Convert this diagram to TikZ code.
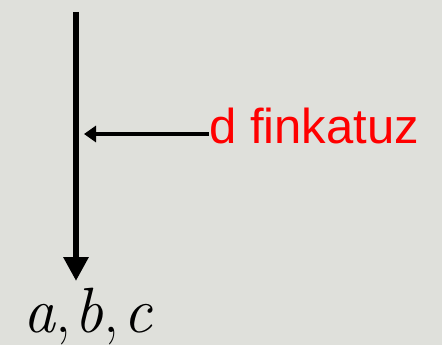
\documentclass[tikz,border=0pt]{standalone}
\usepackage{fontspec}
\setmainfont{Liberation Sans}
\newfontfamily\lmr{Latin Modern Roman}
\usetikzlibrary{arrows.meta}
\definecolor{bg}{RGB}{223,224,219}
\definecolor{lbl}{RGB}{255,0,0}
\begin{document}
\begin{tikzpicture}[x=1pt,y=-1pt,
  mainarrow/.style={line width=6.5pt,-{Triangle[length=24pt,width=24pt]}},
  sidearrow/.style={line width=4pt,-{Triangle[length=12pt,width=16pt]}},
  redlabel/.style={text=lbl,font=\fontsize{49}{56}\selectfont,inner sep=0pt,anchor=base west},
  mathlabel/.style={font=\fontsize{64}{72}\selectfont\lmr,inner sep=0pt,anchor=base}]
\fill[bg] (0,0) rectangle (442,345);
\useasboundingbox (0,0) rectangle (442,345);
\coordinate (top) at (76,12);
\node[mathlabel] (abc) at (88,332) {\textit{a},\kern0.06em\textit{b},\kern0.06em\textit{c}};
\coordinate (bottom) at (76,281);
\coordinate (hit) at (84,134);
\node[redlabel] (lab) at (209,143) {d finkatuz};
\draw[mainarrow] (top) -- (bottom);
\draw[sidearrow] (lab.west |- hit) -- (hit);
\end{tikzpicture}
\end{document}
